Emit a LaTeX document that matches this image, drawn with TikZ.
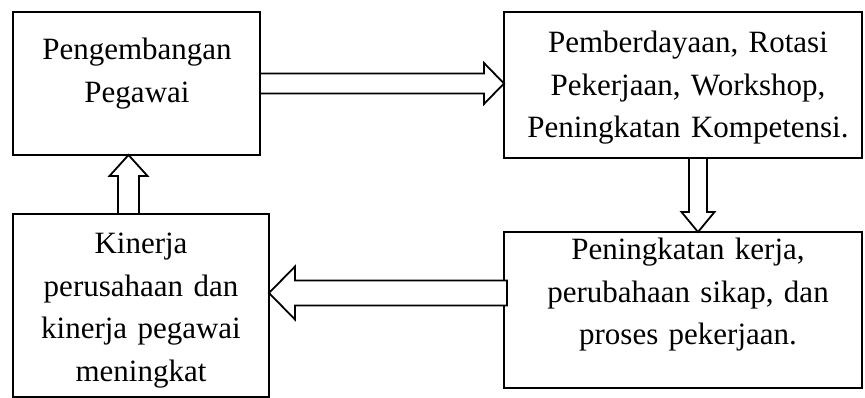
\documentclass[tikz,border=0pt]{standalone}
\usepackage{fontspec}
\setmainfont{Liberation Serif}
\usetikzlibrary{calc}
\tikzset{
  boxnode/.style={draw, line width=2pt, inner sep=0pt, outer sep=0pt},
  txt/.style={anchor=base, inner sep=0pt, align=center, font=\fontsize{31}{42.5}\selectfont},
  blockarrow/.style={draw, line width=1.8pt, fill=white, line join=miter}
}
\begin{document}
\begin{tikzpicture}[x=1pt,y=1pt]
\useasboundingbox (0,0) rectangle (865,398);
% boxes
\node[boxnode, minimum width=247pt, minimum height=143pt] (b1) at (136.5,314.5) {};
\node[boxnode, minimum width=358pt, minimum height=146pt] (b2) at (683,313) {};
\node[boxnode, minimum width=358pt, minimum height=156pt] (b3) at (683,88) {};
\node[boxnode, minimum width=256pt, minimum height=183pt] (b4) at (141,92.5) {};
% texts
\node[txt, text width=250pt] (t1) at (137,338) {Pengembangan\\Pegawai};
\node[txt, text width=350pt] (t2) at (688,345) {Pemberdayaan, Rotasi\\Pekerjaan, Workshop,\\Peningkatan Kompetensi.};
\node[txt, text width=350pt] (t3) at (688,138) {Peningkatan kerja,\\perubahaan sikap, dan\\proses pekerjaan.};
\node[txt, text width=250pt] (t4) at (141,144) {Kinerja\\perusahaan dan\\kinerja pegawai\\meningkat};
% arrow 1: b1 -> b2
\coordinate (a1s) at (b1.east);
\coordinate (a1e) at (b1.east -| b2.west);
\draw[blockarrow] ($(a1s)+(0,10)$) -- ($(a1e)+(-20,10)$) -- ($(a1e)+(-20,20.5)$) -- (a1e)
  -- ($(a1e)+(-20,-20.5)$) -- ($(a1e)+(-20,-10)$) -- ($(a1s)+(0,-10)$) -- cycle;
% arrow 2: b2 -> b3
\coordinate (a2s) at ($(b2.south)+(15,0)$);
\coordinate (a2e) at (a2s |- b3.north);
\draw[blockarrow] ($(a2s)+(-9,0)$) -- ($(a2e)+(-9,20)$) -- ($(a2e)+(-16.5,20)$) -- (a2e)
  -- ($(a2e)+(16.5,20)$) -- ($(a2e)+(9,20)$) -- ($(a2s)+(9,0)$) -- cycle;
% arrow 3: b3 -> b4
\coordinate (a3s) at ($(b3.west)+(3,17)$);
\coordinate (a3e) at (a3s -| b4.east);
\draw[blockarrow] ($(a3s)+(0,12.5)$) -- ($(a3e)+(26,12.5)$) -- ($(a3e)+(26,26.5)$) -- (a3e)
  -- ($(a3e)+(26,-26.5)$) -- ($(a3e)+(26,-12.5)$) -- ($(a3s)+(0,-12.5)$) -- cycle;
% arrow 4: b4 -> b1
\coordinate (a4s) at ($(b4.north)+(-12.5,0)$);
\coordinate (a4e) at (a4s |- b1.south);
\draw[blockarrow] ($(a4s)+(-10.5,0)$) -- ($(a4e)+(-10.5,-21)$) -- ($(a4e)+(-19,-21)$) -- (a4e)
  -- ($(a4e)+(19,-21)$) -- ($(a4e)+(10.5,-21)$) -- ($(a4s)+(10.5,0)$) -- cycle;
\end{tikzpicture}
\end{document}
